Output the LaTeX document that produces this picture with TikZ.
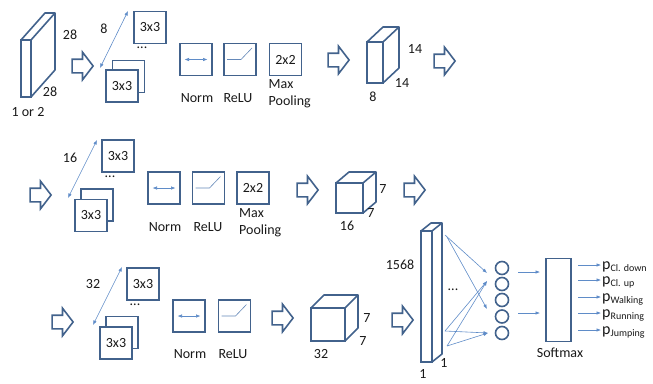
\documentclass[tikz,border=0pt]{standalone}
\usepackage{fontspec}
\setmainfont{Carlito}
\usetikzlibrary{arrows.meta,positioning,shapes.arrows,calc}
\definecolor{cnnblue}{RGB}{66,98,140}
\definecolor{linkblue}{RGB}{95,140,200}
\definecolor{txtgray}{RGB}{25,25,25}
\newcommand{\psub}[2]{{\fontsize{16}{17}\selectfont #1}\raisebox{-2pt}{\fontsize{10}{12}\selectfont #2}}

\begin{document}
\begin{tikzpicture}[x=1pt, y=-1pt, font=\fontsize{14}{17}\selectfont, text=txtgray,
  box/.style={draw=cnnblue, line width=1.6pt, fill=white, minimum width=32pt, minimum height=32pt, inner sep=0pt, outer sep=0pt},
  face/.style={draw=cnnblue, line width=1.6pt, fill=white, inner sep=0pt, outer sep=0pt},
  edge/.style={draw=cnnblue, line width=1.6pt, line join=round},
  unit/.style={circle, draw=cnnblue, line width=1.6pt, minimum size=13pt, inner sep=0pt},
  bigarrow/.style={single arrow, draw=cnnblue, line width=1.6pt, fill=white, inner xsep=0pt, inner ysep=6pt, minimum height=21pt, single arrow head extend=7pt, single arrow tip angle=105, outer sep=0pt},
  lbl/.style={inner sep=0pt},
  flow/.style={draw=linkblue, line width=0.6pt, -{Latex[length=4.5pt,width=3.5pt]}},
  dflow/.style={draw=linkblue, line width=0.6pt, {Latex[length=4.5pt,width=3.5pt]}-{Latex[length=4.5pt,width=3.5pt]}},
  relu/.style={draw=linkblue!80!gray, line width=0.6pt}]

  \useasboundingbox (0,0) rectangle (653,383);

  % Row 1: input and first convolution block
  \node[face, minimum width=10pt, minimum height=57pt] (in) at (26,68.5) {};
  \draw[edge] (in.north west) -- ++(24,-27) -- ++(10,0) -- ++(0,57) -- (in.south east);
  \draw[edge] (in.north east) -- ++(24,-27);
  \node[lbl] (in28a) at (70,35) {28};
  \node[lbl] (in28b) at (50,92) {28};
  \node[lbl] (inch) at (28,112) {1 or 2};

  \node[bigarrow] (a1) at (80,66) {};

  \node[box] (k1t) at (150,27.5) {3x3};
  \node[lbl] (k1d) at (142,48) {...};
  \node[box] (k1b) at (128.5,76.5) {};
  \node[box] (k1f) at (122,86) {3x3};
  \coordinate (d1a) at (100,68);
  \coordinate (d1b) at (128,11);
  \draw[dflow] (d1a) -- (d1b);
  \node[lbl] (k1n) at (104,29) {8};

  \node[box] (n1) at (196,59.5) {};
  \draw[dflow] ([xshift=4.5pt]n1.west) -- ([xshift=-4.5pt]n1.east);
  \node[lbl] (n1l) at (197,98) {Norm};
  \node[box] (r1) at (240,59.5) {};
  \draw[relu] ([xshift=3pt]r1.west) -- ([xshift=1pt]r1.center) -- ($(r1.east)+(-4,-11.5)$);
  \node[lbl] (r1l) at (238,98) {ReLU};
  \node[box] (m1) at (285.5,59.5) {2x2};
  \node[lbl, anchor=north west, align=left] (m1l) at ($(m1.south west)+(-1,4)$) {Max\\Pooling};

  \node[bigarrow] (a2) at (336,60) {};

  \node[face, minimum width=16pt, minimum height=41pt] (c1) at (375,62.5) {};
  \draw[edge] (c1.north west) -- ++(16,-15) -- ++(16,0) -- ++(0,41) -- (c1.south east);
  \draw[edge] (c1.north east) -- ++(16,-15);
  \node[lbl] (c1h) at (415,49) {14};
  \node[lbl] (c1w) at (402,83) {14};
  \node[lbl] (c1d) at (373,97) {8};

  \node[bigarrow] (a3) at (442,61) {};

  % Row 2: second convolution block
  \node[bigarrow] (a4) at (38,195) {};

  \node[box] (k2t) at (118,156) {3x3};
  \node[lbl] (k2d) at (110,177) {...};
  \node[box] (k2b) at (97,205) {};
  \node[box] (k2f) at (91,215.5) {3x3};
  \coordinate (d2a) at (68,198);
  \coordinate (d2b) at (97,140);
  \draw[dflow] (d2a) -- (d2b);
  \node[lbl] (k2n) at (70,158) {16};

  \node[box] (n2) at (164,188) {};
  \draw[dflow] ([xshift=4.5pt]n2.west) -- ([xshift=-4.5pt]n2.east);
  \node[lbl] (n2l) at (165,227) {Norm};
  \node[box] (r2) at (208.5,188) {};
  \draw[relu] ([xshift=3pt]r2.west) -- ([xshift=1pt]r2.center) -- ($(r2.east)+(-4,-11.5)$);
  \node[lbl] (r2l) at (208,227) {ReLU};
  \node[box] (m2) at (253,188) {2x2};
  \node[lbl, anchor=north west, align=left] (m2l) at ($(m2.south west)+(2,4)$) {Max\\Pooling};

  \node[bigarrow] (a5) at (305,190) {};

  \node[face, minimum width=27pt, minimum height=30pt] (c2) at (349.5,198) {};
  \draw[edge] (c2.north west) -- ++(13,-11) -- ++(27,0) -- ++(0,30) -- (c2.south east);
  \draw[edge] (c2.north east) -- ++(13,-11);
  \node[lbl] (c2h) at (383,189) {7};
  \node[lbl] (c2w) at (371,213) {7};
  \node[lbl] (c2d) at (347,226) {16};

  \node[bigarrow] (a6) at (412,190) {};

  % Row 3: third convolution block
  \node[bigarrow] (a7) at (60,322) {};

  \node[box] (k3t) at (143,284) {3x3};
  \node[lbl] (k3d) at (135,305) {...};
  \node[box] (k3b) at (122,332.5) {};
  \node[box] (k3f) at (116,343) {3x3};
  \coordinate (d3a) at (93,325);
  \coordinate (d3b) at (122,267);
  \draw[dflow] (d3a) -- (d3b);
  \node[lbl] (k3n) at (93,284) {32};

  \node[box] (n3) at (189,316) {};
  \draw[dflow] ([xshift=4.5pt]n3.west) -- ([xshift=-4.5pt]n3.east);
  \node[lbl] (n3l) at (190,354) {Norm};
  \node[box] (r3) at (234.5,316) {};
  \draw[relu] ([xshift=3pt]r3.west) -- ([xshift=1pt]r3.center) -- ($(r3.east)+(-4,-11.5)$);
  \node[lbl] (r3l) at (233,354) {ReLU};

  \node[bigarrow] (a8) at (280,318) {};

  \node[face, minimum width=34pt, minimum height=33pt] (c3) at (328,324.5) {};
  \draw[edge] (c3.north west) -- ++(13,-13) -- ++(34,0) -- ++(0,33) -- (c3.south east);
  \draw[edge] (c3.north east) -- ++(13,-13);
  \node[lbl] (c3h) at (367,318) {7};
  \node[lbl] (c3w) at (363,341) {7};
  \node[lbl] (c3d) at (321,354) {32};

  \node[bigarrow] (a9) at (400,320) {};

  % Fully connected part
  \node[face, minimum width=11pt, minimum height=131pt] (fc) at (426.5,296.5) {};
  \draw[edge] (fc.north west) -- ++(10,-8) -- ++(11,0) -- ++(0,131) -- (fc.south east);
  \draw[edge] (fc.north east) -- ++(10,-8);
  \node[lbl] (fcn) at (400,265) {1568};
  \node[lbl] (fcd) at (444,363) {1};
  \node[lbl] (fcw) at (423,374) {1};
  \node[lbl] (fcdots) at (453,290) {...};

  \node[unit] (o1) at (502,268) {};
  \node[unit] (o2) at (502,284) {};
  \node[unit] (o3) at (502,300) {};
  \node[unit] (o4) at (502,316.5) {};
  \node[unit] (o5) at (502,333) {};

  \coordinate (s1) at (445,235);
  \coordinate (s2) at (447,237);
  \coordinate (s3) at (445,331);
  \coordinate (s4) at (447,346);
  \coordinate (e1) at (487,273);
  \coordinate (e2) at (487,281);
  \coordinate (e3) at (487,309);
  \coordinate (e4) at (488,333);
  \draw[flow] (s1) -- (e1);
  \draw[flow] (s2) -- (e3);
  \draw[flow] (s3) -- (e2);
  \draw[flow] (s3) -- (e4);
  \draw[flow] (s4) -- (e2);
  \draw[flow] (s4) -- (e4);

  \node[face, minimum width=25pt, minimum height=83pt] (sm) at (558.5,300) {};
  \node[lbl] (sml) at (560,353) {Softmax};

  \coordinate (h1) at (518,272);
  \coordinate (h2) at (518,313);
  \draw[flow, shorten >=6pt] (h1) -- (h1 -| sm.west);
  \draw[flow, shorten >=6pt] (h2) -- (h2 -| sm.west);

  % Class probabilities
  \coordinate (t1) at (601,265);
  \coordinate (t2) at (601,280);
  \coordinate (t3) at (601,297);
  \coordinate (t4) at (601,313);
  \coordinate (t5) at (601,330);
  \draw[flow] (sm.east |- t1) ++(7,0) -- (t1);
  \draw[flow] (sm.east |- t2) ++(7,0) -- (t2);
  \draw[flow] (sm.east |- t3) ++(7,0) -- (t3);
  \draw[flow] (sm.east |- t4) ++(7,0) -- (t4);
  \draw[flow] (sm.east |- t5) ++(7,0) -- (t5);
  \node[lbl, anchor=base west] (p1) at ($(t1)+(1,4)$) {\psub{p}{Cl. down}};
  \node[lbl, anchor=base west] (p2) at ($(t2)+(1,4)$) {\psub{p}{Cl. up}};
  \node[lbl, anchor=base west] (p3) at ($(t3)+(1,4)$) {\psub{p}{Walking}};
  \node[lbl, anchor=base west] (p4) at ($(t4)+(1,4)$) {\psub{p}{Running}};
  \node[lbl, anchor=base west] (p5) at ($(t5)+(1,4)$) {\psub{p}{Jumping}};
\end{tikzpicture}
\end{document}
